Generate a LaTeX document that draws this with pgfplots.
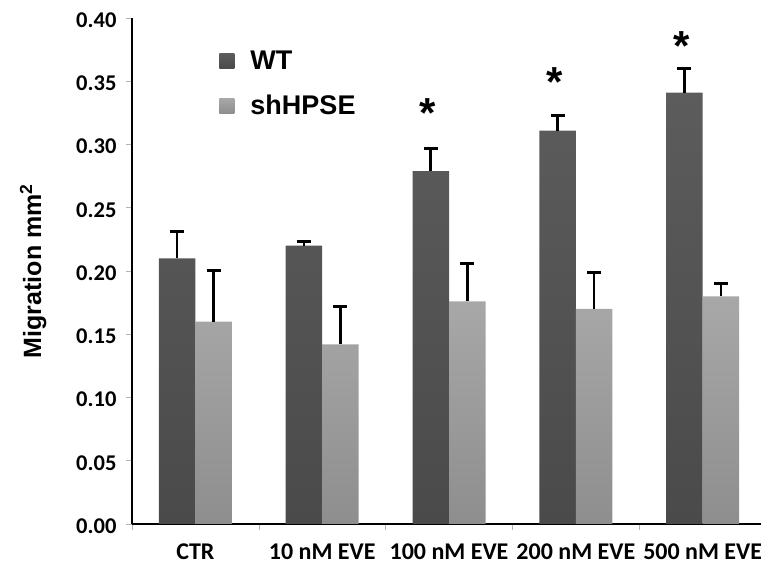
\documentclass[border=0pt]{standalone}
\usepackage{fontspec}
\setmainfont{Carlito}
\newfontfamily\arialfont{Liberation Sans}
\usepackage{pgfplots}
\pgfplotsset{compat=1.18}

\definecolor{wtTop}{HTML}{5C5C5C}
\definecolor{wtBot}{HTML}{4A4A4A}
\definecolor{shTop}{HTML}{A8A8A8}
\definecolor{shBot}{HTML}{8E8E8E}

\begin{document}
\begin{tikzpicture}
\useasboundingbox (-132pt,-40pt) rectangle (629pt,524pt);
\begin{axis}[
    at={(0pt,0pt)}, anchor=south west,
    scale only axis,
    width=629pt, height=506pt,
    ybar=0pt, bar width=0.288,
    xmin=-0.5, xmax=4.46,
    ymin=0, ymax=0.40,
    axis lines=left,
    axis line style={-, line width=1.8pt, black},
    xtick={-0.5,0.5,1.5,2.5,3.5,4.5},
    xticklabels={},
    extra x ticks={0,1,2,3,4},
    extra x tick labels={CTR,10 nM EVE,100 nM EVE,200 nM EVE,500 nM EVE},
    extra x tick style={major tick length=0pt},
    xticklabel style={font=\fontsize{24}{28}\selectfont\bfseries, yshift=-16pt},
    ytick={0,0.05,0.10,0.15,0.20,0.25,0.30,0.35,0.40},
    yticklabel style={font=\fontsize{22.5}{26}\selectfont\bfseries, xshift=-6pt, yshift=-2pt,
        /pgf/number format/.cd, fixed, fixed zerofill, precision=2,
        assume math mode=true},
    tick align=outside,
    major tick length=6pt,
    tick style={gray!60, line width=0.6pt},
    ylabel={\arialfont\bfseries Migration mm\textsuperscript{2}},
    ylabel style={font=\fontsize{25}{30}\selectfont, at={(axis description cs:-0.157,0.5)}, anchor=center},
    legend style={draw=none, fill=none, at={(0.134,0.943)}, anchor=north west,
        font=\arialfont\bfseries\fontsize{27}{32}\selectfont, row sep=20pt, column sep=14pt,
        nodes={inner sep=2pt}},
    legend cell align=left,
    legend image code/.code={\path[#1] (0pt,-7.5pt) rectangle (15pt,7.5pt);},
    clip=false,
]

\addplot[draw=none, top color=wtTop, bottom color=wtBot,
    error bars/.cd, y dir=plus, y explicit,
    error bar style={line width=2.6pt, black},
    error mark options={rotate=90, mark size=7pt, line width=3pt, black}]
    table[x=x, y=y, y error=e] {
    x y     e
    0 0.210 0.021
    1 0.220 0.003
    2 0.279 0.018
    3 0.311 0.012
    4 0.341 0.019
    };
\addlegendentry{WT}

\addplot[draw=none, top color=shTop, bottom color=shBot,
    error bars/.cd, y dir=plus, y explicit,
    error bar style={line width=2.6pt, black},
    error mark options={rotate=90, mark size=7pt, line width=3pt, black}]
    table[x=x, y=y, y error=e] {
    x y     e
    0 0.160 0.040
    1 0.142 0.030
    2 0.176 0.030
    3 0.170 0.029
    4 0.180 0.010
    };
\addlegendentry{shHPSE}

\node[font=\arialfont\bfseries\fontsize{42}{42}\selectfont, yshift=-7pt, xshift=-3pt] at (axis cs:1.856,0.330) {*};
\node[font=\arialfont\bfseries\fontsize{42}{42}\selectfont, yshift=-7pt, xshift=-3pt] at (axis cs:2.856,0.355) {*};
\node[font=\arialfont\bfseries\fontsize{42}{42}\selectfont, yshift=-7pt, xshift=-3pt] at (axis cs:3.856,0.383) {*};

\end{axis}
\end{tikzpicture}
\end{document}
